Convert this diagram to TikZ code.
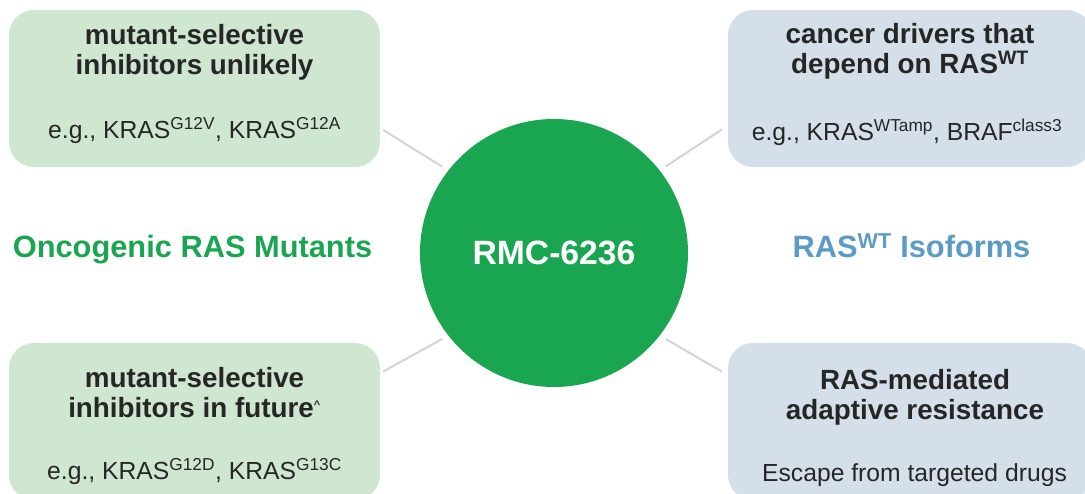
\documentclass[tikz,border=0pt]{standalone}
\usepackage{fontspec}
\setmainfont{Liberation Sans}

\definecolor{rmcgreen}{RGB}{26,166,80}
\definecolor{mutfill}{RGB}{207,230,208}
\definecolor{wtfill}{RGB}{213,223,234}
\definecolor{wtblue}{RGB}{91,155,198}
\definecolor{txtgray}{RGB}{38,38,38}
\definecolor{linkgray}{RGB}{212,212,212}

\begin{document}
\begin{tikzpicture}[x=1pt,y=1pt,
  box/.style={rounded corners=25pt,minimum width=371pt,minimum height=157pt,inner sep=0pt},
  head/.style={anchor=base,align=center,text=txtgray,font=\fontsize{27.8}{30.5}\selectfont\bfseries},
  sub/.style={anchor=base,text=txtgray,font=\fontsize{24.7}{28}\selectfont},
  link/.style={draw=linkgray,line width=2pt,shorten >=7pt}]
\clip (0,0) rectangle (1085,493);

\node[box,fill=mutfill] (tl) at (194.5,404.5) {};
\node[box,fill=wtfill,minimum width=364pt] (tr) at (910,404.5) {};
\node[box,fill=mutfill] (bl) at (194.5,71.5) {};
\node[box,fill=wtfill,minimum width=364pt] (br) at (910,71.5) {};

\node[circle,fill=rmcgreen,minimum size=268pt,inner sep=0pt,text=white,
  font=\fontsize{33.7}{36}\selectfont\bfseries] (rmc) at (554,240) {RMC-6236};

 \draw[link] ([xshift=3pt,yshift=-41.5pt]tl.east) -- (rmc.142);
 \draw[link] ([xshift=-6pt,yshift=-41pt]tr.west) -- (rmc.38);
 \draw[link] ([xshift=3pt,yshift=50pt]bl.east) -- (rmc.218);
 \draw[link] ([xshift=-6pt,yshift=50pt]br.west) -- (rmc.322);

\node[anchor=base,text=rmcgreen,font=\fontsize{30.8}{34}\selectfont\bfseries] (mutlbl) at (192.5,235) {Oncogenic RAS Mutants};
\node[anchor=base,text=wtblue,font=\fontsize{30.8}{34}\selectfont\bfseries] (wtlbl) at (911.5,235) {RAS\textsuperscript{WT} Isoforms};

\node[head] (tlhead) at (194.5,418) {mutant-selective\\inhibitors unlikely};
\node[sub] (tlsub) at (194.5,354) {e.g., KRAS\textsuperscript{G12V}, KRAS\textsuperscript{G12A}};
\node[head] (trhead) at (910,419) {cancer drivers that\\depend on RAS\textsuperscript{WT}};
\node[sub] (trsub) at (907,352) {e.g., KRAS\textsuperscript{WTamp}, BRAF\textsuperscript{class3}};
\node[head] (blhead) at (194.5,75) {mutant-selective\\inhibitors in future\textsuperscript{\fontsize{11}{11}\selectfont\textasciicircum}};
\node[sub] (blsub) at (194.5,13) {e.g., KRAS\textsuperscript{G12D}, KRAS\textsuperscript{G13C}};
\node[head] (brhead) at (915,73) {RAS-mediated\\adaptive resistance};
\node[sub] (brsub) at (914.5,12) {Escape from targeted drugs};

\end{tikzpicture}
\end{document}
